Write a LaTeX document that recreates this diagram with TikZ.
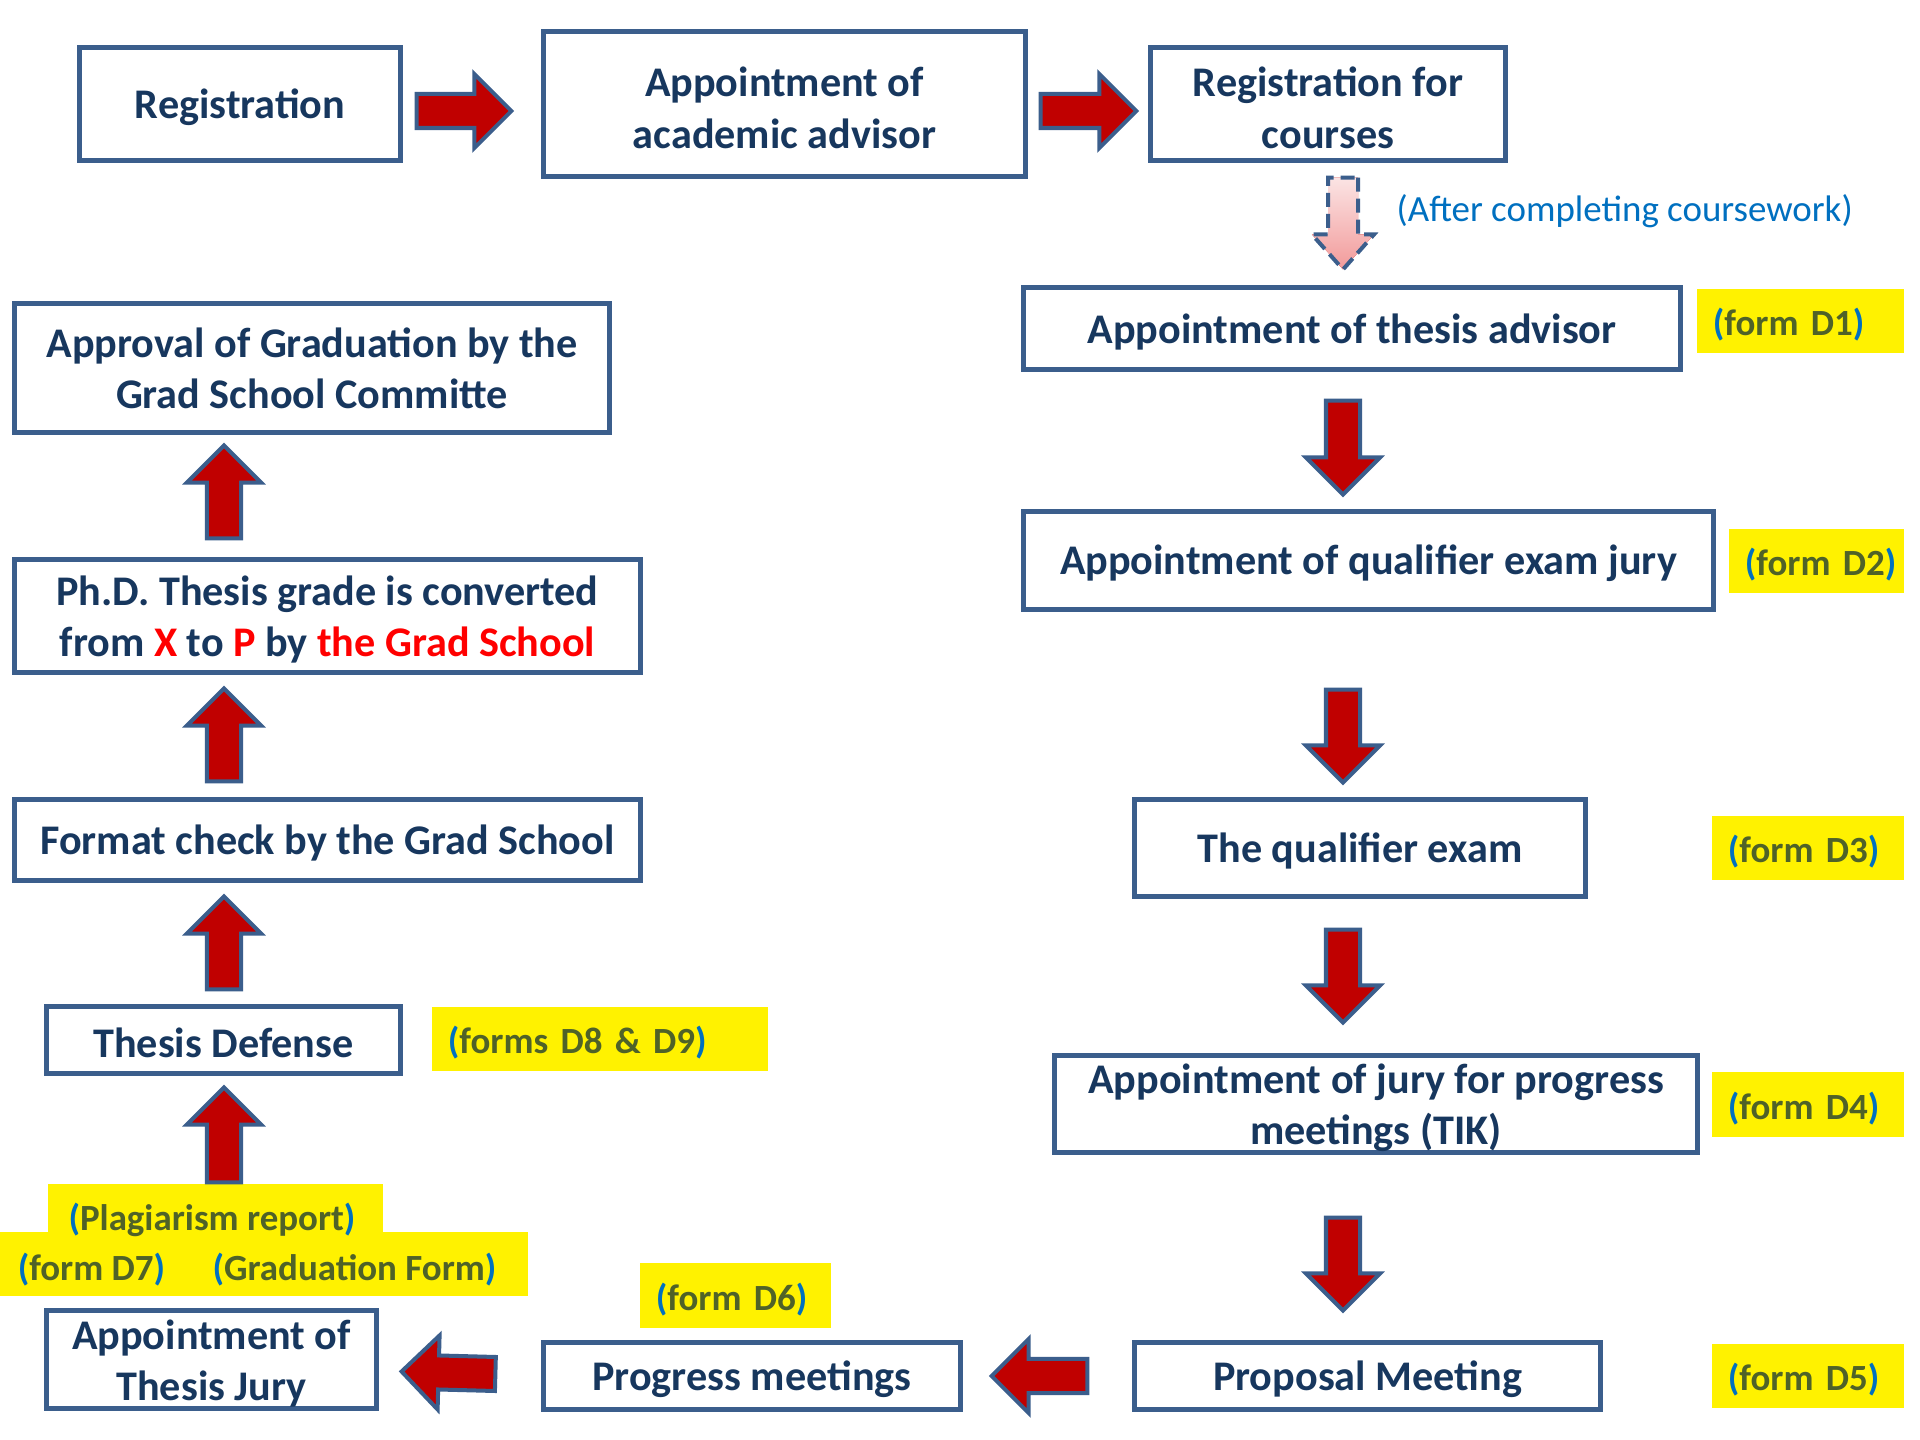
\documentclass[tikz,border=0pt]{standalone}
\usepackage{fontspec}
\setmainfont{Carlito}
\usetikzlibrary{positioning,calc}

\definecolor{boxline}{HTML}{3B5E8C}
\definecolor{navytext}{HTML}{17375E}
\definecolor{arrowred}{HTML}{C00000}
\definecolor{tagtext}{HTML}{4F6228}
\definecolor{tagblue}{HTML}{0070C0}
\definecolor{hinttop}{HTML}{FBE4E4}
\definecolor{hintbottom}{HTML}{F29A9A}

\newcommand{\tagtxt}[1]{\mbox{{\color{tagblue}(}#1{\color{tagblue})}}}
\newcommand{\hl}[1]{\textcolor{red}{#1}}
\newcommand{\topgap}{\rule{0pt}{0.37cm}}

% block arrow from #2 to #3
\def\arrshaft{0.17cm}
\def\arrhead{0.37cm}
\def\arrtip{0.37cm}
\newcommand{\blockarrow}[3][]{%
    \coordinate (ba-s) at (#2);
    \coordinate (ba-e) at (#3);
    \coordinate (ba-h) at ($(ba-e)!\arrtip!(ba-s)$);
    \filldraw[bigarrow,#1] ($(ba-s)!\arrshaft!90:(ba-e)$) -- ($(ba-h)!\arrshaft!90:(ba-e)$)
        -- ($(ba-h)!\arrhead!90:(ba-e)$) -- (ba-e) -- ($(ba-h)!\arrhead!-90:(ba-e)$)
        -- ($(ba-h)!\arrshaft!-90:(ba-e)$) -- ($(ba-s)!\arrshaft!-90:(ba-e)$) -- cycle;
}

\tikzset{
    stepbox/.style={draw=boxline, line width=0.05cm, fill=white, text=navytext,
        font=\bfseries\fontsize{12}{14.6}\selectfont, align=center, inner sep=0pt,
        execute at begin node=\rule{0pt}{0.36cm}},
    formbox/.style={fill=yellow, text=tagtext, font=\bfseries\fontsize{10.5}{13}\selectfont,
        align=left, inner xsep=0.16cm, inner ysep=0pt, minimum height=0.64cm, text width=#1,
        text height=0.34cm, text depth=0.05cm},
    tagline/.style={text=tagtext, font=\bfseries\fontsize{10.5}{13}\selectfont, inner sep=0pt,
        text height=0.34cm, text depth=0.05cm},
    bigarrow/.style={draw=boxline, fill=arrowred, line width=0.04cm, line join=miter},
}

\begin{document}
\begin{tikzpicture}[x=0.01cm, y=-0.01cm]
    \path[use as bounding box, fill=white] (0,0) rectangle (1920,1440);

    % top row
    \node[stepbox, minimum width=3.2cm, minimum height=1.12cm] (reg) at (240,104) {Registration};
    \node[stepbox, minimum width=4.81cm, minimum height=1.44cm] (acad) at (784.5,104) {\topgap Appointment of\\academic advisor};
    \node[stepbox, minimum width=3.54cm, minimum height=1.12cm] (courses) at (1328,104) {\topgap Registration for\\courses};

    % right column
    \node[stepbox, minimum width=6.56cm, minimum height=0.81cm] (thadv) at (1352,328.5) {Appointment of thesis advisor};
    \node[stepbox, minimum width=6.89cm, minimum height=0.97cm] (qjury) at (1368.5,560.5) {Appointment of qualifier exam jury};
    \node[stepbox, minimum width=4.5cm, minimum height=0.96cm] (qexam) at (1360,848) {The qualifier exam};
    \node[stepbox, minimum width=6.42cm, minimum height=0.96cm] (tik) at (1376,1104) {\topgap Appointment of jury for progress\\meetings (TIK)};
    \node[stepbox, minimum width=4.65cm, minimum height=0.66cm] (proposal) at (1367.5,1376) {Proposal Meeting};

    % bottom row
    \node[stepbox, minimum width=4.16cm, minimum height=0.66cm] (progress) at (752,1376) {Progress meetings};
    \node[stepbox, minimum width=3.29cm, minimum height=0.97cm] (jury) at (211.5,1359.5) {\topgap Appointment of\\Thesis Jury};

    % left column
    \node[stepbox, minimum width=3.53cm, minimum height=0.66cm] (defense) at (223.5,1040) {Thesis Defense};
    \node[stepbox, minimum width=6.25cm, minimum height=0.8cm] (format) at (327.5,840) {Format check by the Grad School};
    \node[stepbox, minimum width=6.25cm, minimum height=1.12cm] (grade) at (327.5,616)
        {\topgap Ph.D. Thesis grade is converted\\from \hl{X} to \hl{P} by \hl{the Grad School}};
    \node[stepbox, minimum width=5.94cm, minimum height=1.28cm] (approval) at (312,368)
        {Approval of Graduation by the\\Grad School Committe};

    % forms
    \node[formbox=1.75cm] (tD1) at (1800.5,321) {\tagtxt{form D1}};
    \node[formbox=1.43cm] (tD2) at (1816.5,561) {\tagtxt{form D2}};
    \node[formbox=1.6cm] (tD3) at (1808,848) {\tagtxt{form D3}};
    \node[formbox=1.6cm] (tD4) at (1808,1104.5) {\tagtxt{form D4}};
    \node[formbox=1.6cm] (tD5) at (1808,1376) {\tagtxt{form D5}};
    \node[formbox=1.59cm] (tD6) at (735.5,1295.5) {\tagtxt{form D6}};
    \node[formbox=3.04cm] (tD89) at (600,1039) {\tagtxt{forms D8 \& D9}};

    \node[fill=yellow, minimum width=5.28cm, minimum height=0.64cm, inner sep=0pt] (gradrow) at (264,1264) {};
    \node[fill=yellow, minimum width=3.35cm, minimum height=0.53cm, inner sep=0pt] (plag) at (215.5,1210.5) {};
    \node[tagline] (tplag) at (212,1216) {\tagtxt{Plagiarism report}};
    \node[tagline] (tD7) at (91.5,1266) {\tagtxt{form D7}};
    \node[tagline] (tgrad) at (354.5,1266) {\tagtxt{Graduation Form}};

    \node[anchor=west, text=tagblue, font=\fontsize{10.5}{13}\selectfont, inner sep=0pt] (hint) at (1396,211)
        {(After completing coursework)};

    % arrows
    \coordinate (colR) at (1343,0);
    \coordinate (colL) at (224,0);

    \blockarrow{$(reg.east)+(14,7)$}{$(acad.west)+(-30,7)$}
    \blockarrow{$(acad.east)+(13,7)$}{$(courses.west)+(-12,7)$}
    {\def\arrshaft{0.15cm}\def\arrhead{0.31cm}\def\arrtip{0.35cm}
    \blockarrow[dashed, dash pattern=on 0.14cm off 0.07cm, top color=hinttop, bottom color=hintbottom]
        {$(colR |- courses.south)+(0,15)$}{$(colR |- thadv.north)+(0,-16)$}}
    \blockarrow{$(colR |- thadv.south)+(0,29)$}{$(colR |- qjury.north)+(0,-15)$}
    \blockarrow{$(colR |- qjury.south)+(0,78)$}{$(colR |- qexam.north)+(0,-15)$}
    \blockarrow{$(colR |- qexam.south)+(0,31)$}{$(colR |- tik.north)+(0,-31)$}
    \blockarrow{$(colR |- tik.south)+(0,63)$}{$(colR |- proposal.north)+(0,-30)$}

    \blockarrow{$(proposal.west)+(-45,0)$}{$(progress.east)+(29,0)$}
    \blockarrow{$(progress.west)+(-46,-2)$}{$(jury.east)+(23,12)$}

    \blockarrow{$(colL |- plag.north)+(0,-1)$}{$(colL |- defense.south)+(0,12)$}
    \blockarrow{$(colL |- defense.north)+(0,-15)$}{$(colL |- format.south)+(0,14)$}
    \blockarrow{$(colL |- format.north)+(0,-16)$}{$(colL |- grade.south)+(0,14)$}
    \blockarrow{$(colL |- grade.north)+(0,-19)$}{$(colL |- approval.south)+(0,11)$}
\end{tikzpicture}
\end{document}
